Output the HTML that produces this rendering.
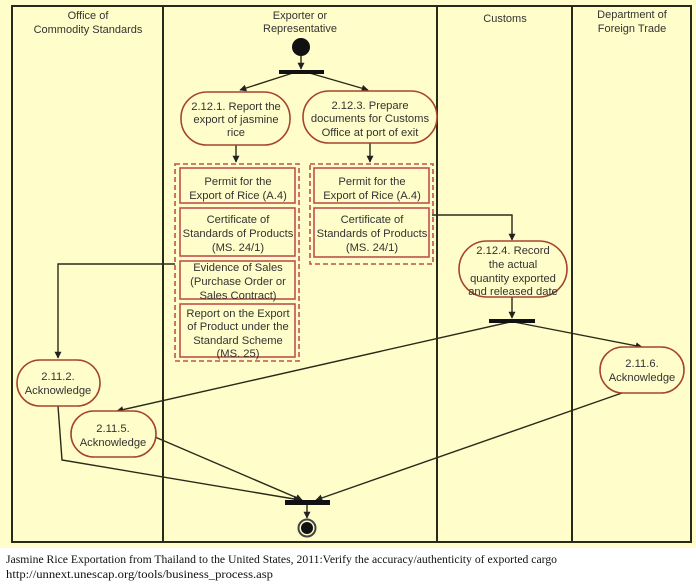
<!DOCTYPE html>
<html><head><meta charset="utf-8"><style>
html,body{margin:0;padding:0;background:#fff;}
svg{display:block;}
.t{font-family:"Liberation Sans",sans-serif;font-size:11.2px;fill:#333;text-anchor:middle;}
.h{font-family:"Liberation Sans",sans-serif;font-size:11px;fill:#333;text-anchor:middle;}
.c{font-family:"Liberation Serif",serif;font-size:11.5px;fill:#111;}
</style></head><body>
<svg width="696" height="584" viewBox="0 0 696 584" xmlns="http://www.w3.org/2000/svg">
<defs>
<marker id="a" viewBox="0 0 10 10" refX="9" refY="5" markerWidth="7" markerHeight="7" orient="auto-start-reverse" markerUnits="userSpaceOnUse">
<path d="M0,0 L10,5 L0,10 z" fill="#222"/>
</marker>
</defs>
<rect x="0" y="0" width="696" height="548" fill="#fffdc9"/>
<!-- frame -->
<g stroke="#2a2a1a" stroke-width="2" fill="none">
<rect x="12" y="6" width="679" height="536"/>
<line x1="163" y1="6" x2="163" y2="542"/>
<line x1="437" y1="6" x2="437" y2="542"/>
<line x1="572" y1="6" x2="572" y2="542"/>
</g>
<!-- headers -->
<text class="h" x="88" y="19">Office of</text>
<text class="h" x="88" y="33">Commodity Standards</text>
<text class="h" x="300" y="19">Exporter or</text>
<text class="h" x="300" y="32">Representative</text>
<text class="h" x="505" y="22">Customs</text>
<text class="h" x="632" y="18">Department of</text>
<text class="h" x="632" y="32">Foreign Trade</text>

<!-- start -->
<circle cx="301" cy="47" r="9" fill="#111"/>
<g stroke="#2a2a1a" stroke-width="1.4" fill="none">
<line x1="301" y1="56" x2="301" y2="69" marker-end="url(#a)"/>
<line x1="296" y1="72" x2="240" y2="90" marker-end="url(#a)"/>
<line x1="306" y1="72" x2="368" y2="90" marker-end="url(#a)"/>
<line x1="236" y1="145" x2="236" y2="162" marker-end="url(#a)"/>
<line x1="370" y1="143" x2="370" y2="162" marker-end="url(#a)"/>
<polyline points="432,215 512,215 512,240" marker-end="url(#a)"/>
<line x1="512" y1="297" x2="512" y2="318" marker-end="url(#a)"/>
<line x1="514" y1="322" x2="642" y2="347" marker-end="url(#a)"/>
<line x1="510" y1="322" x2="117" y2="411" marker-end="url(#a)"/>
<polyline points="175,264 58,264 58,358" marker-end="url(#a)"/>
<polyline points="58,406 62,460 300,500" marker-end="url(#a)"/>
<line x1="155" y1="437" x2="302" y2="500" marker-end="url(#a)"/>
<line x1="622" y1="393" x2="316" y2="500" marker-end="url(#a)"/>
<line x1="307" y1="505" x2="307" y2="518" marker-end="url(#a)"/>
</g>
<rect x="279" y="70" width="45" height="4" fill="#111"/>
<rect x="489" y="319" width="46" height="4" fill="#111"/>
<rect x="285" y="500" width="45" height="5" fill="#111"/>
<circle cx="307" cy="528" r="8.5" fill="none" stroke="#444" stroke-width="2"/>
<circle cx="307" cy="528" r="6" fill="#111"/>

<!-- activity nodes -->
<g fill="#fffdc9" stroke="#a5442e" stroke-width="1.6">
<rect x="181" y="92" width="109" height="53" rx="26" ry="26"/>
<rect x="303" y="91" width="134" height="52" rx="26" ry="26"/>
<rect x="459" y="241" width="108" height="56" rx="28" ry="28"/>
<rect x="600" y="347" width="84" height="46" rx="23" ry="23"/>
<rect x="17" y="360" width="83" height="46" rx="23" ry="23"/>
<rect x="71" y="411" width="85" height="46" rx="23" ry="23"/>
</g>
<text class="t" x="236" y="110">2.12.1. Report the</text>
<text class="t" x="236" y="123">export of jasmine</text>
<text class="t" x="236" y="136">rice</text>
<text class="t" x="370" y="109">2.12.3. Prepare</text>
<text class="t" x="370" y="122">documents for Customs</text>
<text class="t" x="370" y="136">Office at port of exit</text>
<text class="t" x="513" y="254">2.12.4. Record</text>
<text class="t" x="513" y="268">the actual</text>
<text class="t" x="513" y="282">quantity exported</text>
<text class="t" x="513" y="295">and released date</text>
<text class="t" x="642" y="367">2.11.6.</text>
<text class="t" x="642" y="381">Acknowledge</text>
<text class="t" x="58" y="380">2.11.2.</text>
<text class="t" x="58" y="394">Acknowledge</text>
<text class="t" x="113" y="432">2.11.5.</text>
<text class="t" x="113" y="446">Acknowledge</text>

<!-- dashed groups -->
<g fill="none" stroke="#c0504d" stroke-width="1.6" stroke-dasharray="5,3">
<rect x="175" y="164" width="124" height="197"/>
<rect x="310" y="164" width="123" height="100"/>
</g>
<g fill="none" stroke="#c0504d" stroke-width="1.6">
<rect x="180" y="168" width="115" height="35"/>
<rect x="180" y="208" width="115" height="48"/>
<rect x="180" y="261" width="115" height="38"/>
<rect x="180" y="304" width="115" height="53"/>
<rect x="314" y="168" width="115" height="35"/>
<rect x="314" y="208" width="115" height="49"/>
</g>
<text class="t" x="238" y="185">Permit for the</text>
<text class="t" x="238" y="199">Export of Rice (A.4)</text>
<text class="t" x="238" y="223">Certificate of</text>
<text class="t" x="238" y="237">Standards of Products</text>
<text class="t" x="238" y="251">(MS. 24/1)</text>
<text class="t" x="238" y="271">Evidence of Sales</text>
<text class="t" x="238" y="285">(Purchase Order or</text>
<text class="t" x="238" y="299">Sales Contract)</text>
<text class="t" x="238" y="317">Report on the Export</text>
<text class="t" x="238" y="330">of Product under the</text>
<text class="t" x="238" y="344">Standard Scheme</text>
<text class="t" x="238" y="357">(MS. 25)</text>
<text class="t" x="372" y="185">Permit for the</text>
<text class="t" x="372" y="199">Export of Rice (A.4)</text>
<text class="t" x="372" y="223">Certificate of</text>
<text class="t" x="372" y="237">Standards of Products</text>
<text class="t" x="372" y="251">(MS. 24/1)</text>

<!-- caption -->
<text class="c" x="6" y="563" textLength="551" lengthAdjust="spacingAndGlyphs">Jasmine Rice Exportation from Thailand to the United States, 2011:Verify the accuracy/authenticity of exported cargo</text>
<text class="c" x="6" y="578" textLength="267" lengthAdjust="spacingAndGlyphs">http://unnext.unescap.org/tools/business_process.asp</text>
</svg>
</body></html>
